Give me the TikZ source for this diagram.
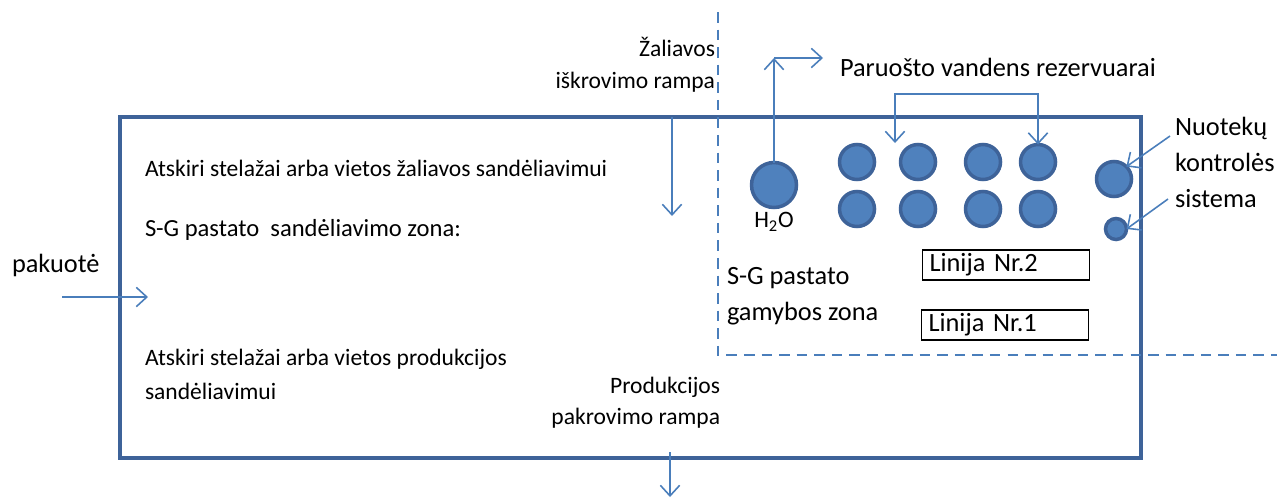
\documentclass[tikz,border=0pt]{standalone}
\usepackage{fontspec}
\setmainfont{Carlito}
\usetikzlibrary{arrows.meta}
\definecolor{boxblue}{HTML}{3E6399}
\definecolor{fillblue}{HTML}{4F81BD}
\definecolor{linblue}{HTML}{4A7EBB}
\tikzset{
  every node/.style={inner sep=0pt, outer sep=0pt},
  small/.style={font=\fontsize{13.4}{16}\selectfont},
  mediumtxt/.style={font=\fontsize{14}{17}\selectfont},
  large/.style={font=\fontsize{15}{18}\selectfont},
  arr/.style={draw=linblue, line width=0.9pt, -{Straight Barb[length=6pt,width=11pt,line width=0.9pt]}},
  dblarr/.style={draw=linblue, line width=0.9pt, {Straight Barb[length=6pt,width=11pt,line width=0.9pt]}-{Straight Barb[length=6pt,width=11pt,line width=0.9pt]}},
  zone/.style={draw=linblue, line width=0.9pt, dash pattern=on 6pt off 4pt},
  tank/.style={circle, draw=boxblue, fill=fillblue, line width=2pt, minimum size=0.70cm},
  bigtank/.style={tank, minimum size=0.90cm},
  smalltank/.style={tank, minimum size=0.42cm},
  linebox/.style={draw=black, line width=0.8pt, minimum height=0.6cm, text width=3.06cm, inner xsep=0.14cm, align=left, large},
  hall/.style={draw=boxblue, line width=2.4pt}
}
\begin{document}
\begin{tikzpicture}[x=0.02cm, y=-0.02cm]
\useasboundingbox (0,0) rectangle (1277,498);
% main building outline
\coordinate (hallNW) at (120,117);
\coordinate (hallSE) at (1141,458);
\draw[hall] (hallNW) rectangle (hallSE);
% production zone dashed border
\coordinate (zoneTop) at (718,12);
\coordinate (zoneCorner) at (718,355);
\coordinate (zoneRight) at (1277,355);
\draw[zone] (zoneTop) -- (zoneCorner) -- (zoneRight);

% texts
\node[small, anchor=mid east] (zal1) at (715,52) {Žaliavos};
\node[small, anchor=mid east] (zal2) at (715,84) {iškrovimo rampa};
\node[small, anchor=mid west] (ats1) at (145,172) {Atskiri stelažai arba vietos žaliavos sandėliavimui};
\node[mediumtxt, anchor=mid west] (sand) at (145,232) {S-G pastato\ \ sandėliavimo zona:};
\node[large, anchor=mid west] (pak) at (12,268) {pakuotė};
\node[small, anchor=mid west] (ats2) at (145,361) {Atskiri stelažai arba vietos produkcijos};
\node[small, anchor=mid west] (ats3) at (145,395) {sandėliavimui};
\node[small, anchor=mid east] (prod1) at (720,389) {Produkcijos};
\node[small, anchor=mid east] (prod2) at (720,420) {pakrovimo rampa};
\node[large, anchor=mid west] (par) at (840,72) {Paruošto vandens rezervuarai};
\node[large, anchor=mid west] (nuo1) at (1175,131) {Nuotekų};
\node[large, anchor=mid west] (nuo2) at (1175,167) {kontrolės};
\node[large, anchor=mid west] (nuo3) at (1175,203) {sistema};
\node[large, anchor=mid west] (gam1) at (727,280) {S-G pastato};
\node[large, anchor=mid west] (gam2) at (727,316) {gamybos zona};

% production lines
\node[linebox] (lin2) at (1006,265) {Linija Nr.2};
\node[linebox] (lin1) at (1005,325) {Linija Nr.1};

% tanks
\node[bigtank] (h2o) at (774,185) {};
\node[small] (h2olbl) at (774,222) {H\textsubscript{2}O};
\node[tank] (t1) at (857,162) {};
\node[tank] (t2) at (918,162) {};
\node[tank] (t3) at (983,162) {};
\node[tank] (t4) at (1038,162) {};
\node[tank] (t5) at (857,209) {};
\node[tank] (t6) at (918,209) {};
\node[tank] (t7) at (983,209) {};
\node[tank] (t8) at (1038,209) {};
\node[tank] (r1) at (1114,179) {};
\node[smalltank] (r2) at (1116,229) {};

% connectors
\coordinate (zalIn) at (672,117);
\coordinate (zalEnd) at (672,216);
\draw[arr] (zalIn) -- (zalEnd);
\coordinate (pakStart) at (62,297);
\coordinate (pakEnd) at (148,297);
\draw[arr] (pakStart) -- (pakEnd);
\coordinate (prodStart) at (670,452);
\coordinate (prodEnd) at (670,497);
\draw[arr] (prodStart) -- (prodEnd);
\coordinate (h2oCorner) at (774,58);
\coordinate (h2oOut) at (823,58);
\draw[arr] (h2o.north) -- (h2oCorner);
\draw[arr] (h2oCorner) -- (h2oOut);
\coordinate (brL) at (895,143);
\coordinate (brT) at (968,94);
\draw[dblarr] (brL) |- (brT) -| (t4.north);
\coordinate (nuoA) at (1170,136);
\coordinate (nuoB) at (1168,199);
\draw[arr] (nuoA) -- (r1.north east);
\draw[arr] (nuoB) -- (r2.east);
\end{tikzpicture}
\end{document}
